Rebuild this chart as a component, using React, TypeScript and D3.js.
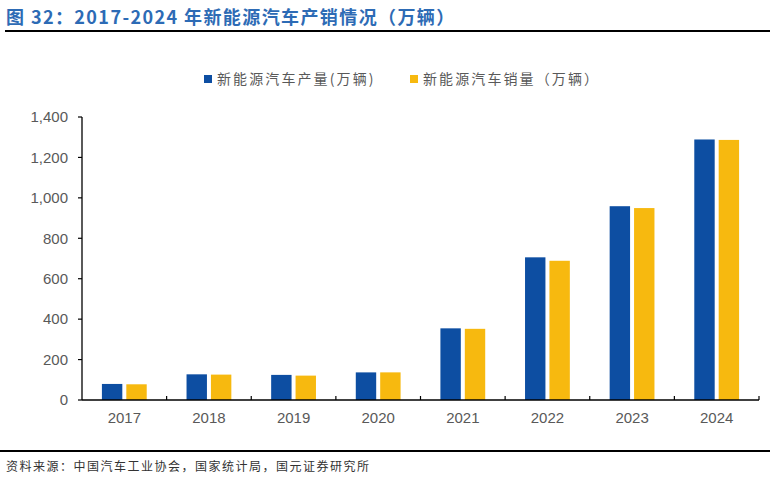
import * as d3 from "d3";

const years = ["2017", "2018", "2019", "2020", "2021", "2022", "2023", "2024"];
const production = [79.4, 127, 124.2, 136.6, 354.5, 705.8, 958.7, 1288.8];
const sales = [77.7, 125.6, 120.6, 136.7, 352.1, 688.7, 949.5, 1286.6];
const seriesNames = ["新能源汽车产量(万辆)", "新能源汽车销量（万辆）"];
const yTicks = [0, 200, 400, 600, 800, 1000, 1200, 1400];

const width = 776;
const height = 480;
const marginLeft = 82;
const marginRight = 17;
const plotTop = 117;
const plotBottom = 400;

const colors = ["#0d4ea2", "#f7b90f"];
const textGray = "#595959";
const cjk = "'Noto Sans CJK SC', sans-serif";

const App = () => {
  const x = d3
    .scaleBand<string>()
    .domain(years)
    .range([marginLeft, width - marginRight]);

  const inner = d3
    .scaleBand<number>()
    .domain([0, 1])
    .range([0, x.bandwidth()])
    .paddingInner(0.164)
    .paddingOuter(0.816);

  const y = d3.scaleLinear().domain([0, 1400]).range([plotBottom, plotTop]);

  const fmt = d3.format(",");
  const series = [production, sales];

  return (
    <svg
      width={width}
      height={height}
      viewBox={`0 0 ${width} ${height}`}
      style={{ position: "absolute", left: 0, top: 0, background: "#fff" }}
    >
      {/* title */}
      <text
        x={6}
        y={24}
        fontFamily={cjk}
        fontWeight="bold"
        fontSize={18}
        letterSpacing={1.4}
        fill="#2d6bb5"
      >
        图 32：2017-2024 年新能源汽车产销情况（万辆）
      </text>
      <line x1={5} x2={770} y1={31} y2={31} stroke="#000" strokeWidth={2} />

      {/* legend */}
      {seriesNames.map((name, i) => {
        const lx = i === 0 ? 204 : 410;
        return (
          <g key={name}>
            <rect x={lx} y={75} width={8} height={8} fill={colors[i]} />
            <text
              x={lx + 13}
              y={84}
              fontFamily={cjk}
              fontSize={14}
              letterSpacing={2.1}
              fill={textGray}
            >
              {name}
            </text>
          </g>
        );
      })}

      {/* bars */}
      {series.map((values, si) =>
        values.map((v, i) => (
          <rect
            key={`${si}-${i}`}
            x={(x(years[i]) as number) + (inner(si) as number)}
            y={y(v)}
            width={inner.bandwidth()}
            height={plotBottom - y(v)}
            fill={colors[si]}
          />
        ))
      )}

      {/* y axis */}
      <line
        x1={marginLeft}
        x2={marginLeft}
        y1={plotTop}
        y2={plotBottom}
        stroke="#000"
        strokeWidth={1.3}
      />
      {yTicks.map((t) => (
        <g key={t}>
          <line
            x1={marginLeft - 4}
            x2={marginLeft}
            y1={y(t)}
            y2={y(t)}
            stroke="#000"
            strokeWidth={1.2}
          />
          <text
            x={68}
            y={y(t)}
            dy="0.35em"
            textAnchor="end"
            fontFamily="'Liberation Sans', Arial, sans-serif"
            fontSize={15}
            fill={textGray}
          >
            {fmt(t)}
          </text>
        </g>
      ))}

      {/* x axis */}
      <line
        x1={marginLeft}
        x2={width - marginRight}
        y1={plotBottom}
        y2={plotBottom}
        stroke="#000"
        strokeWidth={1.3}
      />
      {years.map((yr) => {
        const bx = x(yr) as number;
        return (
          <g key={yr}>
            <line
              x1={bx + x.bandwidth()}
              x2={bx + x.bandwidth()}
              y1={plotBottom}
              y2={plotBottom - 4}
              stroke="#000"
              strokeWidth={1.2}
            />
            <text
              x={bx + x.bandwidth() / 2}
              y={423}
              textAnchor="middle"
              fontFamily="'Liberation Sans', Arial, sans-serif"
              fontSize={15}
              fill={textGray}
            >
              {yr}
            </text>
          </g>
        );
      })}

      {/* footer */}
      <line x1={0} x2={770} y1={451} y2={451} stroke="#000" strokeWidth={2} />
      <text
        x={6}
        y={471}
        fontFamily={cjk}
        fontSize={12}
        letterSpacing={1.5}
        fill="#333"
      >
        资料来源：中国汽车工业协会，国家统计局，国元证券研究所
      </text>
    </svg>
  );
};

export default App;
